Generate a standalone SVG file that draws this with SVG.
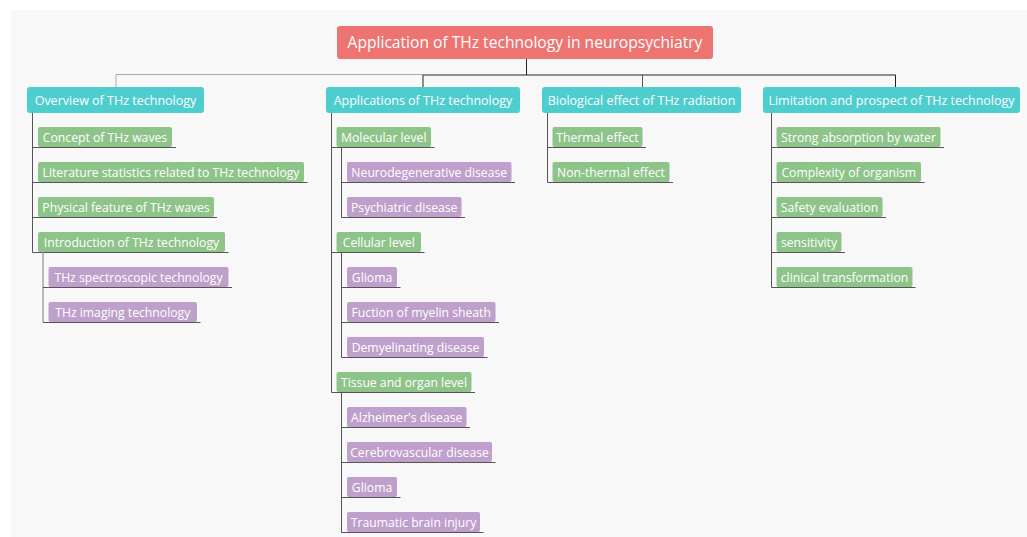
<svg xmlns="http://www.w3.org/2000/svg" width="1027" height="537" viewBox="0 0 1027 537">
<style>
text{font-family:"Open Sans","Noto Sans",sans-serif;fill:#fff;text-anchor:middle}
.r rect{fill:#ee7471}
.r text{font-size:15.6px}
.l1 rect{fill:#4ecdce}
.l1 text{font-size:12.5px}
.l2 rect{fill:#8ec48a}
.l3 rect{fill:#bf9fcb}
.l2 text,.l3 text{font-size:12.2px}
.c line{stroke:#555;stroke-width:1;fill:none}
.c .k{stroke:#222}
.c .g{stroke:#aaa}
.c .g2{stroke:#aaa;stroke-width:1.6}
</style>
<rect x="11" y="10" width="1016" height="527" fill="#f8f8f8"/>
<g class="c" id="connectors">
<line class="k" x1="526.5" y1="59" x2="526.5" y2="75"/>
<line class="g" x1="116" y1="74.5" x2="423" y2="74.5"/>
<line class="k" x1="423" y1="75" x2="895.5" y2="75"/>
<line class="g" x1="116" y1="74.5" x2="116" y2="87"/>
<line class="k" x1="423" y1="75" x2="423" y2="87"/>
<line x1="642.5" y1="75" x2="642.5" y2="87"/>
<line class="k" x1="895.5" y1="75" x2="895.5" y2="87"/>
<line x1="32.5" y1="113" x2="32.5" y2="252.5"/>
<line x1="32.5" y1="147.5" x2="176" y2="147.5"/>
<line x1="32.5" y1="182.5" x2="307.5" y2="182.5"/>
<line x1="32.5" y1="217.5" x2="217" y2="217.5"/>
<line x1="32.5" y1="252.5" x2="228.5" y2="252.5"/>
<line class="g2" x1="43" y1="252.5" x2="43" y2="322.5"/>
<line x1="43" y1="287.5" x2="232" y2="287.5"/>
<line x1="43" y1="322.5" x2="200.5" y2="322.5"/>
<line x1="331.5" y1="113" x2="331.5" y2="392.5"/>
<line x1="331.5" y1="147.5" x2="434.5" y2="147.5"/>
<line x1="341.5" y1="147.5" x2="341.5" y2="217.5"/>
<line x1="341.5" y1="182.5" x2="515" y2="182.5"/>
<line x1="341.5" y1="217.5" x2="465" y2="217.5"/>
<line x1="331.5" y1="252.5" x2="424.5" y2="252.5"/>
<line x1="341.5" y1="252.5" x2="341.5" y2="357.5"/>
<line x1="341.5" y1="287.5" x2="400.5" y2="287.5"/>
<line x1="341.5" y1="322.5" x2="499" y2="322.5"/>
<line x1="341.5" y1="357.5" x2="487.5" y2="357.5"/>
<line x1="331.5" y1="392.5" x2="475" y2="392.5"/>
<line x1="341.5" y1="392.5" x2="341.5" y2="532.5"/>
<line x1="341.5" y1="427.5" x2="470" y2="427.5"/>
<line x1="341.5" y1="462.5" x2="495.5" y2="462.5"/>
<line x1="341.5" y1="497.5" x2="400.5" y2="497.5"/>
<line x1="341.5" y1="532.5" x2="483.5" y2="532.5"/>
<line x1="547.5" y1="113" x2="547.5" y2="182.5"/>
<line x1="547.5" y1="147.5" x2="646" y2="147.5"/>
<line x1="547.5" y1="182.5" x2="673" y2="182.5"/>
<line x1="771.5" y1="113" x2="771.5" y2="287.5"/>
<line x1="771.5" y1="147.5" x2="944" y2="147.5"/>
<line x1="771.5" y1="182.5" x2="924.5" y2="182.5"/>
<line x1="771.5" y1="217.5" x2="886" y2="217.5"/>
<line x1="771.5" y1="252.5" x2="845" y2="252.5"/>
<line x1="771.5" y1="287.5" x2="915.5" y2="287.5"/>
</g>
<g id="root" class="r"><rect x="337" y="26" width="376" height="33" rx="3"/><text x="525" y="48">Application of THz technology in neuropsychiatry</text></g>
<g id="overview" class="l1"><rect x="27" y="87" width="177" height="26" rx="3"/><text x="115.5" y="105">Overview of THz technology</text></g>
<g id="applications" class="l1"><rect x="326" y="87" width="194" height="26" rx="3"/><text x="423" y="105">Applications of THz technology</text></g>
<g id="biological" class="l1"><rect x="542" y="87" width="199" height="26" rx="3"/><text x="641.5" y="105">Biological effect of THz radiation</text></g>
<g id="limitation" class="l1"><rect x="763" y="87" width="257" height="26" rx="3"/><text x="891.5" y="105">Limitation and prospect of THz technology</text></g>
<g id="concept" class="l2"><rect x="38" y="127" width="134" height="20" rx="2"/><text x="105" y="141.5">Concept of THz waves</text></g>
<g id="literature" class="l2"><rect x="38" y="162" width="266" height="20" rx="2"/><text x="171" y="176.5">Literature statistics related to THz technology</text></g>
<g id="physical" class="l2"><rect x="38" y="197" width="176" height="20" rx="2"/><text x="126" y="211.5">Physical feature of THz waves</text></g>
<g id="introduction" class="l2"><rect x="38" y="232" width="187" height="20" rx="2"/><text x="131.5" y="246.5">Introduction of THz technology</text></g>
<g id="spectroscopic" class="l3"><rect x="48.5" y="267" width="180" height="20" rx="2"/><text x="138.5" y="281.5">THz spectroscopic technology</text></g>
<g id="imaging" class="l3"><rect x="48.5" y="302" width="148.5" height="20" rx="2"/><text x="122.75" y="316.5">THz imaging technology</text></g>
<g id="molecular" class="l2"><rect x="336.5" y="127" width="94.5" height="20" rx="2"/><text x="383.75" y="141.5">Molecular level</text></g>
<g id="neurodegenerative" class="l3"><rect x="347" y="162" width="164.5" height="20" rx="2"/><text x="429.25" y="176.5">Neurodegenerative disease</text></g>
<g id="psychiatric" class="l3"><rect x="347" y="197" width="114.5" height="20" rx="2"/><text x="404.25" y="211.5">Psychiatric disease</text></g>
<g id="cellular" class="l2"><rect x="336.5" y="232" width="84.5" height="20" rx="2"/><text x="378.75" y="246.5">Cellular level</text></g>
<g id="glioma1" class="l3"><rect x="347" y="267" width="50" height="20" rx="2"/><text x="372" y="281.5">Glioma</text></g>
<g id="myelin" class="l3"><rect x="347" y="302" width="148.5" height="20" rx="2"/><text x="421.25" y="316.5">Fuction of myelin sheath</text></g>
<g id="demyelinating" class="l3"><rect x="347" y="337" width="137" height="20" rx="2"/><text x="415.5" y="351.5">Demyelinating disease</text></g>
<g id="tissue" class="l2"><rect x="336.5" y="372" width="135" height="20" rx="2"/><text x="404" y="386.5">Tissue and organ level</text></g>
<g id="alzheimer" class="l3"><rect x="347" y="407" width="119.5" height="20" rx="2"/><text x="406.75" y="421.5">Alzheimer's disease</text></g>
<g id="cerebrovascular" class="l3"><rect x="347" y="442" width="145" height="20" rx="2"/><text x="419.5" y="456.5">Cerebrovascular disease</text></g>
<g id="glioma2" class="l3"><rect x="347" y="477" width="50" height="20" rx="2"/><text x="372" y="491.5">Glioma</text></g>
<g id="traumatic" class="l3"><rect x="347" y="512" width="133" height="20" rx="2"/><text x="413.5" y="526.5">Traumatic brain injury</text></g>
<g id="thermal" class="l2"><rect x="552.5" y="127" width="90" height="20" rx="2"/><text x="597.5" y="141.5">Thermal effect</text></g>
<g id="nonthermal" class="l2"><rect x="552.5" y="162" width="117" height="20" rx="2"/><text x="611" y="176.5">Non-thermal effect</text></g>
<g id="absorption" class="l2"><rect x="776.5" y="127" width="164" height="20" rx="2"/><text x="858.5" y="141.5">Strong absorption by water</text></g>
<g id="complexity" class="l2"><rect x="776.5" y="162" width="144.5" height="20" rx="2"/><text x="848.75" y="176.5">Complexity of organism</text></g>
<g id="safety" class="l2"><rect x="776.5" y="197" width="106" height="20" rx="2"/><text x="829.5" y="211.5">Safety evaluation</text></g>
<g id="sensitivity" class="l2"><rect x="776.5" y="232" width="65" height="20" rx="2"/><text x="809" y="246.5">sensitivity</text></g>
<g id="clinical" class="l2"><rect x="776.5" y="267" width="136" height="20" rx="2"/><text x="844.5" y="281.5">clinical transformation</text></g>
</svg>
